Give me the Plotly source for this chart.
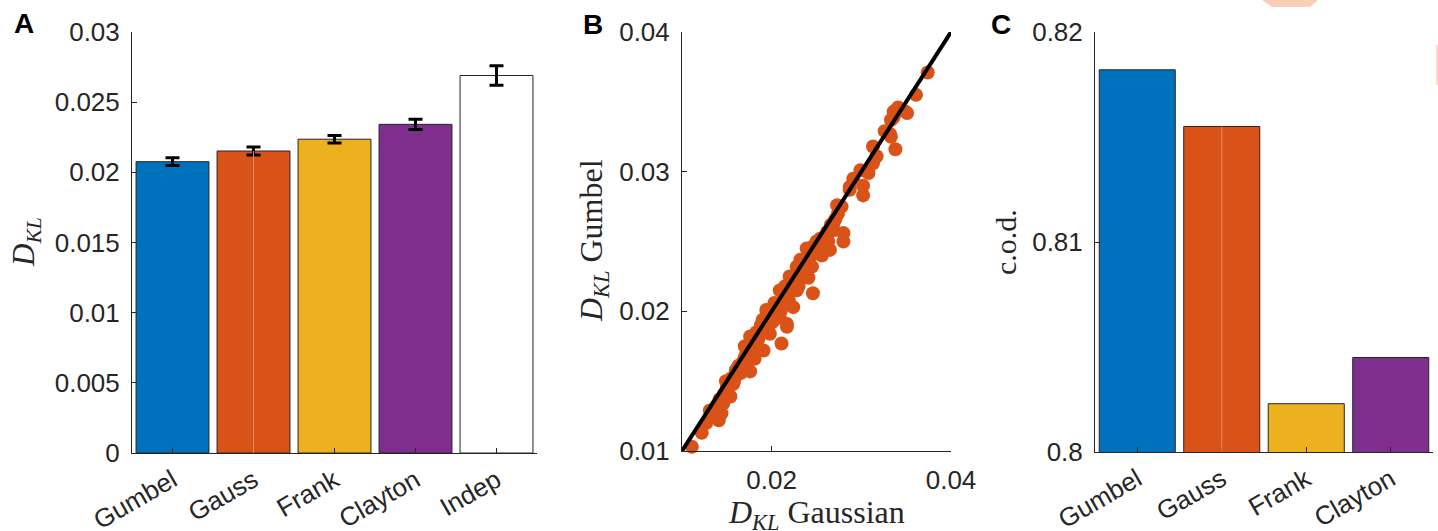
import plotly.graph_objects as go

# ---------------- data ----------------
copulas_a = ["Gumbel", "Gauss", "Frank", "Clayton", "Indep"]
dkl_mean = [0.02076, 0.02152, 0.02236, 0.02342, 0.02690]
dkl_err = [0.00028, 0.00028, 0.00027, 0.00037, 0.00070]
colors_a = ["#0072BD", "#D95319", "#EDB120", "#7E2F8E", "#FFFFFF"]

dkl_gauss = [0.0374, 0.0361, 0.0351, 0.0349, 0.0341, 0.0336, 0.0336, 0.0333, 0.0326, 0.0332,
             0.0333, 0.0338, 0.0313, 0.0317, 0.0313, 0.0308, 0.0299, 0.0291, 0.0302, 0.0287,
             0.0302, 0.0287, 0.0278, 0.0274, 0.0273, 0.0280, 0.0269, 0.0280, 0.0269, 0.0265,
             0.0259, 0.0254, 0.0250, 0.0246, 0.0245, 0.0239, 0.0239, 0.0245, 0.0232, 0.0228,
             0.0241, 0.0246, 0.0228, 0.0220, 0.0217, 0.0209, 0.0224, 0.0217, 0.0209, 0.0198,
             0.0202, 0.0217, 0.0211, 0.0194, 0.0198, 0.0191, 0.0176, 0.0181, 0.0172, 0.0176,
             0.0165, 0.0157, 0.0154, 0.0142, 0.0144, 0.0141, 0.0135, 0.0131, 0.0122, 0.0111,
             0.0235, 0.0230, 0.0225, 0.0213, 0.0205, 0.0188, 0.0185, 0.0168, 0.0162, 0.0150,
             0.0147, 0.0203, 0.0183, 0.0215, 0.0256, 0.0262, 0.0237, 0.0196, 0.0178, 0.0160,
             0.0139, 0.0127,
             0.0155, 0.0158, 0.0163, 0.0166, 0.0170, 0.0174, 0.0180, 0.0184, 0.0187, 0.0192,
             0.0195, 0.0200, 0.0207, 0.0210, 0.0214, 0.0219, 0.0222, 0.0226, 0.0230, 0.0234,
             0.0236, 0.0242, 0.0248, 0.0252, 0.0258, 0.0263, 0.0266, 0.0271, 0.0146, 0.0136,
             0.0149, 0.0170, 0.0190, 0.0212, 0.0222]
dkl_gumbel = [0.0371, 0.0355, 0.0342, 0.0343, 0.0346, 0.0343, 0.0339, 0.0337, 0.0329, 0.0327,
              0.0325, 0.0316, 0.0318, 0.0311, 0.0306, 0.0299, 0.0301, 0.0295, 0.0290, 0.0289,
              0.0283, 0.0287, 0.0275, 0.0270, 0.0276, 0.0256, 0.0258, 0.0250, 0.0263, 0.0244,
              0.0246, 0.0252, 0.0250, 0.0241, 0.0246, 0.0245, 0.0239, 0.0232, 0.0237, 0.0232,
              0.0224, 0.0213, 0.0215, 0.0225, 0.0210, 0.0215, 0.0203, 0.0191, 0.0196, 0.0201,
              0.0193, 0.0189, 0.0177, 0.0201, 0.0184, 0.0172, 0.0182, 0.0166, 0.0170, 0.0157,
              0.0160, 0.0148, 0.0139, 0.0137, 0.0127, 0.0122, 0.0125, 0.0129, 0.0113, 0.0103,
              0.0228, 0.0222, 0.0220, 0.0207, 0.0199, 0.0190, 0.0180, 0.0164, 0.0155, 0.0146,
              0.0141, 0.0206, 0.0185, 0.0218, 0.0240, 0.0257, 0.0233, 0.0190, 0.0175, 0.0158,
              0.0133, 0.0120,
              0.0152, 0.0150, 0.0161, 0.0156, 0.0167, 0.0165, 0.0178, 0.0173, 0.0183, 0.0187,
              0.0195, 0.0192, 0.0203, 0.0200, 0.0212, 0.0208, 0.0216, 0.0226, 0.0218, 0.0234,
              0.0226, 0.0236, 0.0244, 0.0245, 0.0253, 0.0250, 0.0262, 0.0266, 0.0134, 0.0130,
              0.0150, 0.0175, 0.0194, 0.0215, 0.0224]
diag_line = [0.01, 0.04]

copulas_c = ["Gumbel", "Gauss", "Frank", "Clayton"]
cod_vals = [0.8182, 0.8155, 0.8023, 0.8045]
colors_c = ["#0072BD", "#D95319", "#EDB120", "#7E2F8E"]

# ---------------- figure ----------------
W, H = 1438, 531
AX = "#262626"
SANS = "Liberation Sans, Arial, Helvetica, sans-serif"
SERIF = "Liberation Serif, Times New Roman, serif"

def px_x(a, b):
    return [a / W, b / W]

def px_y(top, bot):
    return [(H - bot) / H, (H - top) / H]

fig = go.Figure()

pos_a = list(range(1, len(copulas_a) + 1))
fig.add_trace(go.Bar(
    x=pos_a, y=dkl_mean, width=0.9,
    marker=dict(color=colors_a, line=dict(color=AX, width=1)),
    error_y=dict(type="data", array=dkl_err, color="black", thickness=3, width=7),
    xaxis="x", yaxis="y", showlegend=False))

fig.add_trace(go.Scatter(
    x=dkl_gauss, y=dkl_gumbel, mode="markers",
    marker=dict(color="#D95319", size=14, line=dict(width=0)),
    xaxis="x2", yaxis="y2", showlegend=False, cliponaxis=False))
fig.add_trace(go.Scatter(
    x=diag_line, y=diag_line, mode="lines",
    line=dict(color="black", width=4),
    xaxis="x2", yaxis="y2", showlegend=False))

pos_c = list(range(1, len(copulas_c) + 1))
fig.add_trace(go.Bar(
    x=pos_c, y=cod_vals, width=0.9,
    marker=dict(color=colors_c, line=dict(color=AX, width=1)),
    xaxis="x3", yaxis="y3", showlegend=False))

common = dict(showline=True, linecolor=AX, linewidth=1, ticks="inside", ticklen=5,
              tickcolor=AX, showgrid=False, zeroline=False, automargin=False,
              tickfont=dict(family=SANS, size=26, color=AX))

fig.update_layout(
    width=W, height=H, margin=dict(l=0, r=0, t=0, b=0, autoexpand=False),
    paper_bgcolor="white", plot_bgcolor="white",
    xaxis=dict(domain=px_x(132, 537), range=[0.5, 5.5], tickvals=pos_a,
               ticktext=copulas_a, tickangle=-30, anchor="y",
               ticklabelstandoff=1, **common),
    yaxis=dict(domain=px_y(32, 453), range=[0, 0.03],
               tickvals=[0, 0.005, 0.01, 0.015, 0.02, 0.025, 0.03],
               ticktext=["0", "0.005", "0.01", "0.015", "0.02", "0.025", "0.03"],
               anchor="x", ticklabelstandoff=6, **common),
    xaxis2=dict(domain=px_x(682, 951), range=[0.01, 0.04], tickvals=[0.02, 0.04],
                ticktext=["0.02", "0.04"], anchor="y2", ticklabelstandoff=6, **common),
    yaxis2=dict(domain=px_y(32, 451), range=[0.01, 0.04],
                tickvals=[0.01, 0.02, 0.03, 0.04],
                ticktext=["0.01", "0.02", "0.03", "0.04"], anchor="x2",
                ticklabelstandoff=6, **common),
    xaxis3=dict(domain=px_x(1095, 1433), range=[0.5, 4.5], tickvals=pos_c,
                ticktext=copulas_c, tickangle=-30, anchor="y3",
                ticklabelstandoff=1, **common),
    yaxis3=dict(domain=px_y(32, 452), range=[0.8, 0.82],
                tickvals=[0.8, 0.81, 0.82], ticktext=["0.8", "0.81", "0.82"],
                anchor="x3", ticklabelstandoff=6, **common),
)

def ann(x, y, text, size, family, angle=0, bold=False):
    if bold:
        text = "<b>" + text + "</b>"
    fig.add_annotation(x=x / W, y=(H - y) / H, xref="paper", yref="paper",
                       text=text, showarrow=False, textangle=angle,
                       xanchor="center", yanchor="middle",
                       font=dict(family=family, size=size, color="black" if bold else AX))

DKL = "<i>D</i><sub><i>KL</i></sub>"
ann(24, 23, "A", 28, SANS, bold=True)
ann(593, 24, "B", 28, SANS, bold=True)
ann(1001, 24, "C", 28, SANS, bold=True)
ann(26, 242, DKL, 31, SERIF, angle=-90)
ann(594, 241, DKL + " Gumbel", 32, SERIF, angle=-90)
ann(816, 514, DKL + " Gaussian", 32, SERIF)
ann(1005, 242, "c.o.d.", 30, SERIF, angle=-90)

# faint lighter seam in the middle of the Gauss bars (present in the original rendering)
fig.add_shape(type="line", xref="x", yref="y", x0=pos_a[1], x1=pos_a[1],
              y0=0, y1=dkl_mean[1], line=dict(color="#E88A60", width=1))
fig.add_shape(type="line", xref="x3", yref="y3", x0=pos_c[1], x1=pos_c[1],
              y0=0.8, y1=cod_vals[1], line=dict(color="#E88A60", width=1))

# faint decorative artifacts at top right of the original figure
fig.add_shape(type="path", xref="paper", yref="paper",
              path=f"M {1262/W} 1 L {1318/W} 1 L {1310/W} {(H-7)/H} L {1272/W} {(H-7)/H} Z",
              fillcolor="#F9CDB8", line=dict(width=0), layer="below")
fig.add_shape(type="line", xref="paper", yref="paper",
              x0=1437 / W, x1=1437 / W, y0=(H - 45) / H, y1=(H - 85) / H,
              line=dict(color="#F6B9A0", width=1))

fig.write_html("out.html", config={"displayModeBar": False},
               post_script="document.body.style.margin='0';document.body.style.padding='0';")
